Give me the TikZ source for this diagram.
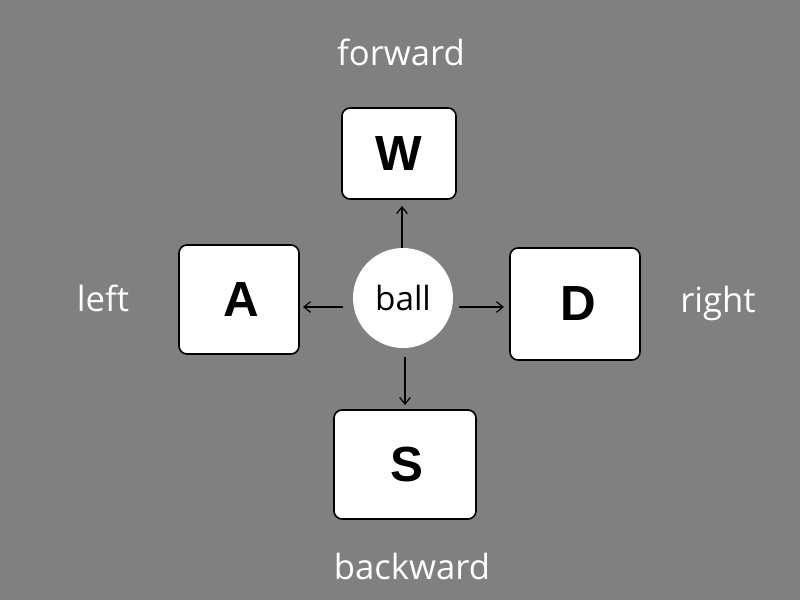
\documentclass[tikz,border=0pt]{standalone}
\usepackage{fontspec}
\setmainfont{Open Sans}
\newfontfamily\keyfont{Liberation Sans}
\usetikzlibrary{arrows.meta}
\definecolor{bg}{HTML}{808080}
\begin{document}
\begin{tikzpicture}[x=0.75pt,y=-0.75pt,
  key/.style={draw=black,line width=1.2pt,fill=white,rounded corners=6pt,inner sep=0pt,font=\keyfont\bfseries\fontsize{37}{40}\selectfont},
  lbl/.style={text=white,font=\fontsize{26}{30}\selectfont},
  arr/.style={-{Straight Barb[length=5pt,width=8pt]},line width=0.9pt,black}]
\fill[bg] (0,0) rectangle (800,600);
\useasboundingbox (0,0) rectangle (800,600);
\node[key,minimum width=85.5pt,minimum height=68.25pt] (W) at (399,153.5) {W};
\node[key,minimum width=90pt,minimum height=81.75pt,text depth=0pt] (A) at (239,299.5) {\hspace*{3pt}A};
\node[key,minimum width=97.5pt,minimum height=84pt] (D) at (575,304) {\hspace*{5pt}D};
\node[key,minimum width=106.5pt,minimum height=81.75pt] (S) at (405,464.5) {\hspace*{3pt}S};
\node[circle,fill=white,minimum size=75pt,inner sep=0pt,font=\fontsize{25}{28}\selectfont] (ball) at (403,298) {ball};
\node[lbl] (fw) at (401,52) {forward};
\node[lbl] (lf) at (103,298) {left};
\node[lbl] (rt) at (718,303) {right};
\node[lbl] (bw) at (412,566) {backward};
\coordinate (u0) at (402,248); \coordinate (u1) at (402,206);
\coordinate (l0) at (343,307); \coordinate (l1) at (303,307);
\coordinate (r0) at (459,307); \coordinate (r1) at (504,307);
\coordinate (d0) at (405,357); \coordinate (d1) at (405,405);
\draw[arr] (u0) -- (u1);
\draw[arr] (l0) -- (l1);
\draw[arr] (r0) -- (r1);
\draw[arr] (d0) -- (d1);
\end{tikzpicture}
\end{document}
